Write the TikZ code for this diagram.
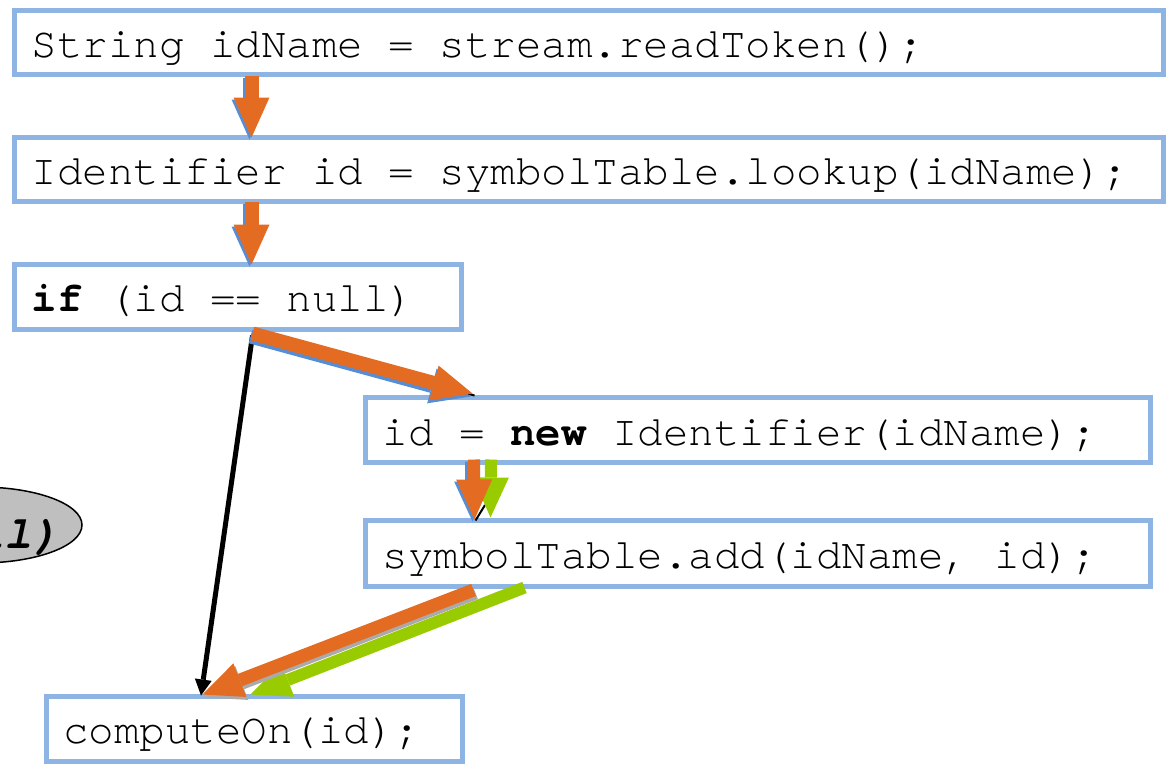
\documentclass[tikz,border=0pt]{standalone}
\usepackage{fontspec}
\setmonofont{texgyrecursor}[Extension=.otf, UprightFont=*-regular,
  BoldFont=*-bold, ItalicFont=*-italic, BoldItalicFont=*-bolditalic,
  Ligatures=NoCommon]
\usetikzlibrary{arrows.meta,calc,shapes.geometric}

\definecolor{boxblue}{RGB}{141,180,226}
\definecolor{floworange}{RGB}{228,108,34}
\definecolor{flowgreen}{RGB}{153,204,0}
\definecolor{shadeblue}{RGB}{85,142,213}
\definecolor{shadegray}{RGB}{170,170,170}
\definecolor{ovalgray}{RGB}{191,191,191}

\begin{document}
\begin{tikzpicture}[x=1pt,y=-1pt,
  codebox/.style={draw=boxblue, line width=5pt, fill=white, rectangle,
    inner xsep=17pt, inner ysep=0pt, align=left,
    text height=33pt, text depth=3pt,
    font=\ttfamily\fontsize{42.5}{50}\selectfont,
    % keep the full monospaced word space inside ragged nodes
    execute at begin node={\spaceskip=0pt\xspaceskip=0pt\relax}},
  blockarrow/.style={line width=14pt,
    -{Triangle[length=40pt,width=36pt,line width=0pt]}},
  thinarrow/.style={line width=5pt, black,
    -{Triangle[length=16pt,width=17pt,line width=0pt]}},
  oval/.style={ellipse, draw=black, line width=1.5pt, fill=ovalgray,
    inner sep=0pt, minimum width=204pt, minimum height=76pt},
]
\useasboundingbox (0,0) rectangle (1166,764);

% side note, mostly off the left edge
\node[oval] (e0) at (-20,525) {};
\node[anchor=base east, inner sep=0pt,
  font=\ttfamily\bfseries\itshape\fontsize{46}{54}\selectfont]
  (e0t) at (60,548) {(null)};

% code statements
\node[codebox, minimum width=1149pt, minimum height=64.5pt, text width=1115pt]
  (b1) at (589,42.25) {String idName = stream.readToken();};
\node[codebox, minimum width=1149pt, minimum height=63.5pt, text width=1115pt]
  (b2) at (589,169.25) {Identifier id = symbolTable.lookup(idName);};
\node[codebox, minimum width=447pt, minimum height=64.5pt, text width=413pt]
  (b3) at (238,296.75) {\textbf{if} (id == null)};
\node[codebox, minimum width=785pt, minimum height=65pt, text width=751pt]
  (b4) at (758,430) {id = \textbf{new} Identifier(idName);};
\node[codebox, minimum width=785pt, minimum height=65.5pt, text width=751pt]
  (b5) at (758,553.25) {symbolTable.add(idName, id);};
\node[codebox, minimum width=416.5pt, minimum height=64.5pt, text width=382.5pt]
  (b6) at (254.25,728.75) {computeOn(id);};

% connector end points on the boxes
\coordinate (a1s) at ($(b1.south west)+(239.5,-1.5)$);
\coordinate (a1e) at ($(b2.north west)+(239.5,2.5)$);
\coordinate (a2s) at ($(b2.south west)+(239.5,-1.5)$);
\coordinate (a2e) at ($(b3.north west)+(239.5,2.5)$);
\coordinate (a3s) at ($(b3.south west)+(240.5,2)$);
\coordinate (a3e) at ($(b4.north west)+(109.5,-1.5)$);
\coordinate (a4s) at ($(b4.south west)+(111,-5.5)$);
\coordinate (a4e) at ($(b5.north west)+(111.5,1.5)$);
\coordinate (a5s) at ($(b4.south west)+(128,-5.5)$);
\coordinate (a5e) at ($(b5.north west)+(127.5,-0.5)$);
\coordinate (a6s) at ($(b5.south west)+(110.5,1.5)$);
\coordinate (a6e) at ($(b6.north west)+(159,0.5)$);
\coordinate (a7s) at ($(b5.south west)+(161.5,-1)$);
\coordinate (a7e) at ($(b6.north west)+(207,0.5)$);
\coordinate (k1s) at ($(b3.south west)+(240.5,4)$);
\coordinate (k1e) at ($(b6.north west)+(157.5,1.5)$);
\coordinate (k2s) at ($(b4.south west)+(122,40)$);
\coordinate (k2e) at ($(b5.north west)+(112.5,2.5)$);

% black flow (else branch), partly hidden under the coloured flows
\draw[line width=2pt, black] (a3s) -- ($(a3e)+(2,2)$);
\draw[line width=2pt, black] (k2s) -- (k2e);
\draw[thinarrow] (k1s) -- (k1e);

% orange flow with its blue shading
\draw[blockarrow, shadeblue, transform canvas={xshift=-2pt,yshift=-2pt}] (a1s) -- (a1e);
\draw[blockarrow, floworange] (a1s) -- (a1e);
\draw[blockarrow, shadeblue, transform canvas={xshift=-2pt,yshift=-2pt}] (a2s) -- (a2e);
\draw[blockarrow, floworange] (a2s) -- (a2e);
\draw[blockarrow, shadeblue, transform canvas={xshift=-2pt,yshift=-3pt}] (a3s) -- (a3e);
\draw[blockarrow, floworange] (a3s) -- (a3e);

% second step: green flow beside the orange one
\draw[blockarrow, line width=12pt, flowgreen] (a5s) -- (a5e);
\draw[blockarrow, shadeblue, transform canvas={xshift=-2pt,yshift=-2pt}] (a4s) -- (a4e);
\draw[blockarrow, line width=12pt, floworange] (a4s) -- (a4e);

% both flows joining computeOn
\draw[blockarrow, line width=12pt, flowgreen] (a7s) -- (a7e);
\draw[blockarrow, line width=13pt, shadegray, transform canvas={xshift=2pt,yshift=-3pt}] (a6s) -- (a6e);
\draw[blockarrow, line width=13pt, floworange] (a6s) -- (a6e);
\end{tikzpicture}
\end{document}
